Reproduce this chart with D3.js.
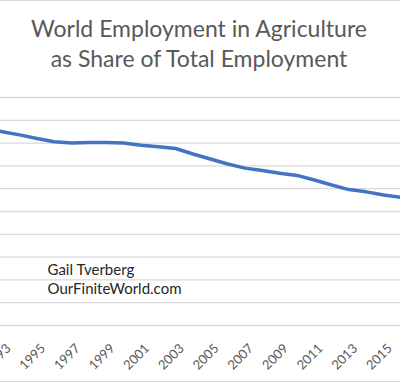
<!DOCTYPE html>
<html>
<head>
<meta charset="utf-8">
<script src="https://cdn.jsdelivr.net/npm/d3@7"></script>
<style>
  html, body { margin: 0; padding: 0; background: #fff; }
  svg { display: block; }
</style>
</head>
<body>
<svg></svg>
<script>
// share of world employment in agriculture, percent
const years = [1991, 1992, 1993, 1994, 1995, 1996, 1997, 1998, 1999, 2000,
               2001, 2002, 2003, 2004, 2005, 2006, 2007, 2008, 2009, 2010,
               2011, 2012, 2013, 2014, 2015, 2016, 2017, 2018, 2019];
const share = [43.6, 43.0, 42.4, 41.7, 40.9, 40.2, 39.9, 40.0, 40.0, 39.9,
               39.4, 39.1, 38.7, 37.5, 36.4, 35.3, 34.4, 33.9, 33.3, 32.8,
               31.8, 30.7, 29.7, 29.2, 28.5, 28.0, 27.5, 27.0, 26.7];
const yTicks = [0, 5, 10, 15, 20, 25, 30, 35, 40, 45, 50];
const labelYears = years.filter(y => y % 2 === 1);
const titleLines = ["World Employment in Agriculture", "as Share of Total Employment"];
const credits = ["Gail Tverberg", "OurFiniteWorld.com"];

let width = 400;
let height = 384;
let font = "Lato, 'Open Sans', sans-serif";

let svg = d3.select("svg")
            .attr("width", width)
            .attr("height", height);

// the plot is wider than the window: the picture is a crop
let x = d3.scaleLinear()
        .domain([1993, 2016])
        .range([2.3, 401]);

let y = d3.scaleLinear()
        .domain([0, 50])
        .range([325, 97]);

// chart frame
svg.append("line")
    .attr("x1", 0).attr("x2", width)
    .attr("y1", 0.5).attr("y2", 0.5)
    .attr("stroke", "#d9d9d9");
svg.append("line")
    .attr("x1", 0).attr("x2", width)
    .attr("y1", 381.5).attr("y2", 381.5)
    .attr("stroke", "#d9d9d9");

// gridlines
svg.append("g")
    .attr("class", "grid")
    .call(d3.axisLeft(y)
        .tickValues(yTicks)
        .tickSize(-width)
        .tickFormat(""))
    .call(g => g.select(".domain").remove())
    .call(g => g.selectAll("line")
        .attr("stroke", "#d9d9d9")
        .attr("stroke-width", 1.3));

// x labels
svg.append("g")
    .selectAll("text")
    .data(labelYears)
    .enter()
    .append("text")
    .attr("transform", d => `translate(${x(d) + 6},${346}) rotate(-45)`)
    .attr("text-anchor", "end")
    .attr("dy", "0.35em")
    .attr("font-family", font)
    .attr("font-size", 13)
    .attr("fill", "#595959")
    .text(d => d);

// the line
let line = d3.line()
    .x((d, i) => x(years[i]))
    .y(d => y(d));

svg.append("path")
    .datum(share)
    .attr("d", line)
    .attr("fill", "none")
    .attr("stroke", "#4472c4")
    .attr("stroke-width", 3.5)
    .attr("stroke-linejoin", "round")
    .attr("stroke-linecap", "round");

// title
svg.append("g")
    .selectAll("text")
    .data(titleLines)
    .enter()
    .append("text")
    .attr("x", 199)
    .attr("y", (d, i) => 37 + i * 29.5)
    .attr("text-anchor", "middle")
    .attr("font-family", font)
    .attr("font-size", 23)
    .attr("fill", "#595959")
    .text(d => d);

// credit
svg.append("g")
    .selectAll("text")
    .data(credits)
    .enter()
    .append("text")
    .attr("x", 47.5)
    .attr("y", (d, i) => 275 + i * 18.5)
    .attr("font-family", font)
    .attr("font-size", 15)
    .attr("fill", "#262626")
    .text(d => d);
</script>
</body>
</html>
